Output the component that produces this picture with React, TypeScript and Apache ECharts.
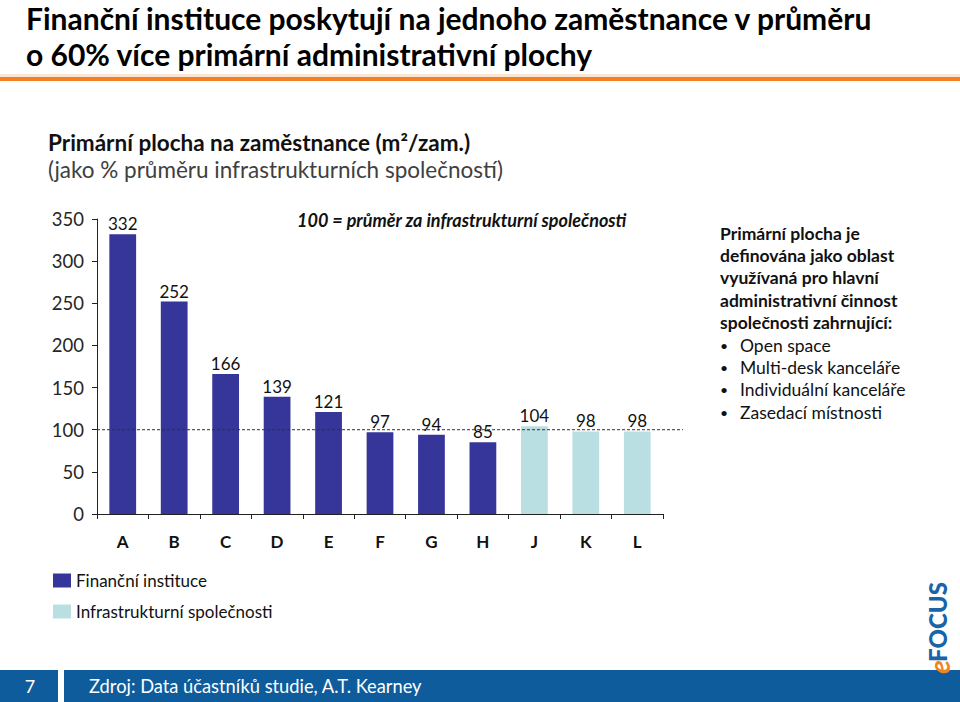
import React, { useEffect, useRef } from 'react';
import * as echarts from 'echarts';

const categories = ['A', 'B', 'C', 'D', 'E', 'F', 'G', 'H', 'J', 'K', 'L'];
const financialValues = [332, 252, 166, 139, 121, 97, 94, 85];
const infrastructureValues = [104, 98, 98];
const seriesNames = ['Finanční instituce', 'Infrastrukturní společnosti'];
const referenceValue = 100;
const yMin = 0;
const yMax = 350;
const yInterval = 50;

const titleLines = [
  'Finanční instituce poskytují na jednoho zaměstnance v průměru',
  'o 60% více primární administrativní plochy',
];
const subtitleBold = 'Primární plocha na zaměstnance (m²/zam.)';
const subtitleNormal = '(jako % průměru infrastrukturních společností)';
const annotation = '100 = průměr za infrastrukturní společnosti';
const definitionLines = [
  'Primární plocha je',
  'definována jako oblast',
  'využívaná pro hlavní',
  'administrativní činnost',
  'společnosti zahrnující:',
];
const bulletItems = ['Open space', 'Multi-desk kanceláře', 'Individuální kanceláře', 'Zasedací místnosti'];
const pageNumber = '7';
const sourceText = 'Zdroj: Data účastníků studie, A.T. Kearney';

const FONT = 'Lato, "Open Sans", sans-serif';
const DARK = '#35359a';
const LIGHT = '#b9dfe3';
const FOOTER = '#0e5c9c';

export default function App() {
  const ref = useRef<HTMLDivElement>(null);

  useEffect(() => {
    document.body.style.margin = '0';
    if (!ref.current) return;
    const chart = echarts.init(ref.current, undefined, { renderer: 'svg' });

    const nFin = financialValues.length;
    const finData = categories.map((_, i) => (i < nFin ? financialValues[i] : '-'));
    const infraData = categories.map((_, i) => (i >= nFin ? infrastructureValues[i - nFin] : '-'));

    const labelCfg = {
      show: true,
      position: 'top',
      distance: 2,
      color: '#111',
      fontSize: 17,
      fontFamily: FONT,
    };

    const graphics: any[] = [];
    titleLines.forEach((t, i) => {
      graphics.push({
        type: 'text',
        x: 26,
        y: 18 + i * 36,
        style: {
          text: t,
          fontSize: 30,
          fontWeight: 'bold',
          fontFamily: FONT,
          fill: '#000',
          verticalAlign: 'middle',
        },
      });
    });
    graphics.push({ type: 'rect', shape: { x: 0, y: 74, width: 960, height: 3 }, style: { fill: '#fbe6d4' } });
    graphics.push({ type: 'rect', shape: { x: 0, y: 77, width: 960, height: 4 }, style: { fill: '#f28024' } });
    graphics.push({
      type: 'text',
      x: 48,
      y: 142,
      style: {
        text: subtitleBold,
        fontSize: 22.5,
        fontWeight: 'bold',
        fontFamily: FONT,
        fill: '#111',
        verticalAlign: 'middle',
      },
    });
    graphics.push({
      type: 'text',
      x: 48,
      y: 169,
      style: { text: subtitleNormal, fontSize: 22.5, fontFamily: FONT, fill: '#404040', verticalAlign: 'middle' },
    });
    graphics.push({
      type: 'text',
      x: 297,
      y: 220,
      style: {
        text: annotation,
        fontSize: 18,
        fontWeight: 'bold',
        fontStyle: 'italic',
        fontFamily: FONT,
        fill: '#111',
        verticalAlign: 'middle',
      },
    });
    definitionLines.forEach((t, i) => {
      graphics.push({
        type: 'text',
        x: 720,
        y: 233 + i * 22.4,
        style: {
          text: t,
          fontSize: 17.5,
          fontWeight: 'bold',
          fontFamily: FONT,
          fill: '#111',
          verticalAlign: 'middle',
        },
      });
    });
    bulletItems.forEach((t, i) => {
      const y = 233 + (definitionLines.length + i) * 22.4;
      graphics.push({
        type: 'text',
        x: 720,
        y,
        style: { text: '•', fontSize: 14, fontFamily: FONT, fill: '#111', verticalAlign: 'middle' },
      });
      graphics.push({
        type: 'text',
        x: 740,
        y,
        style: { text: t, fontSize: 17.5, fontFamily: FONT, fill: '#111', verticalAlign: 'middle' },
      });
    });
    // footer
    graphics.push({ type: 'rect', shape: { x: 0, y: 670, width: 960, height: 32 }, style: { fill: FOOTER } });
    graphics.push({ type: 'rect', shape: { x: 58, y: 670, width: 6, height: 32 }, style: { fill: '#ffffff' } });
    graphics.push({
      type: 'text',
      x: 30,
      y: 686,
      style: {
        text: pageNumber,
        fontSize: 18,
        fontFamily: FONT,
        fill: '#fff',
        align: 'center',
        verticalAlign: 'middle',
      },
    });
    graphics.push({
      type: 'text',
      x: 89,
      y: 686,
      style: { text: sourceText, fontSize: 18.3, fontFamily: FONT, fill: '#fff', verticalAlign: 'middle' },
    });
    // logo
    graphics.push({
      type: 'text',
      x: 937,
      y: 622,
      rotation: Math.PI / 2,
      style: {
        text: 'FOCUS',
        fontSize: 24,
        fontWeight: 900,
        fontFamily: FONT,
        fill: '#1a63a6',
        align: 'center',
        verticalAlign: 'middle',
      },
    });
    graphics.push({
      type: 'text',
      x: 939,
      y: 667,
      rotation: Math.PI / 2,
      style: {
        text: 'e',
        fontSize: 28,
        fontWeight: 'bold',
        fontStyle: 'italic',
        fontFamily: FONT,
        fill: '#f0841e',
        align: 'center',
        verticalAlign: 'middle',
      },
    });

    const option: any = {
      animation: false,
      backgroundColor: '#ffffff',
      textStyle: { fontFamily: FONT },
      grid: [
        { left: 97, top: 219, width: 566, height: 295 },
        { left: 97, top: 219, width: 586, height: 295 },
      ],
      legend: {
        data: seriesNames,
        orient: 'vertical',
        left: 48,
        top: 567,
        itemWidth: 18,
        itemHeight: 14,
        itemGap: 14,
        icon: 'rect',
        textStyle: { fontSize: 17, color: '#111', fontFamily: FONT },
      },
      xAxis: [
        {
          type: 'category',
          data: categories,
          gridIndex: 0,
          axisLine: { lineStyle: { color: '#222', width: 1 } },
          axisTick: { show: true, length: 5, lineStyle: { color: '#222' } },
          axisLabel: { fontSize: 17, fontWeight: 'bold', color: '#111', margin: 19, fontFamily: FONT },
        },
        { type: 'value', gridIndex: 1, min: 0, max: 1, show: false },
      ],
      yAxis: [
        {
          type: 'value',
          gridIndex: 0,
          min: yMin,
          max: yMax,
          interval: yInterval,
          axisLine: { show: true, lineStyle: { color: '#222', width: 1 } },
          axisTick: { show: true, length: 5, lineStyle: { color: '#222' } },
          splitLine: { show: false },
          axisLabel: { fontSize: 18.5, color: '#262626', margin: 13, fontFamily: FONT },
        },
        { type: 'value', gridIndex: 1, min: yMin, max: yMax, show: false },
      ],
      series: [
        {
          name: seriesNames[0],
          type: 'bar',
          stack: 'all',
          barWidth: '52%',
          data: finData,
          itemStyle: { color: DARK },
          label: labelCfg,
        },
        {
          name: seriesNames[1],
          type: 'bar',
          stack: 'all',
          barWidth: '52%',
          data: infraData,
          itemStyle: { color: LIGHT },
          label: labelCfg,
        },
        {
          name: 'reference',
          type: 'line',
          xAxisIndex: 1,
          yAxisIndex: 1,
          data: [
            [0, referenceValue],
            [1, referenceValue],
          ],
          symbol: 'none',
          z: 5,
          silent: true,
          lineStyle: { color: '#333', width: 1, type: [3, 2] },
        },
      ],
      graphic: graphics,
    };
    chart.setOption(option);
    return () => chart.dispose();
  }, []);

  return <div ref={ref} style={{ width: 960, height: 702, position: 'absolute', left: 0, top: 0 }} />;
}
